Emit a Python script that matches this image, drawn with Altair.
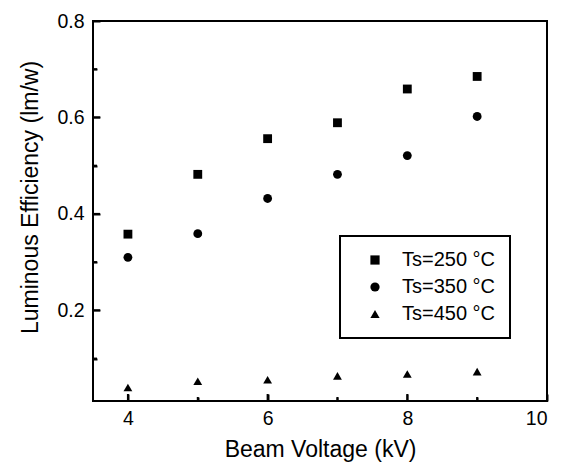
import altair as alt
import pandas as pd

voltage = [4, 5, 6, 7, 8, 9]
eff_250 = [0.358, 0.482, 0.556, 0.589, 0.659, 0.685]
eff_350 = [0.310, 0.359, 0.432, 0.482, 0.521, 0.602]
eff_450 = [0.040, 0.053, 0.056, 0.064, 0.068, 0.073]
series = ["Ts=250 °C", "Ts=350 °C", "Ts=450 °C"]

x_major = [4, 6, 8, 10]
x_minor = [5, 7, 9]
y_major = [0.2, 0.4, 0.6, 0.8]
y_minor = [0.1, 0.3, 0.5, 0.7]

W, H = 454, 380
FONT = "Liberation Sans"

rows = []
for name, vals in zip(series, [eff_250, eff_350, eff_450]):
    for v, e in zip(voltage, vals):
        rows.append({"V": v, "E": e, "S": name})
df = pd.DataFrame(rows)

xs = alt.Scale(domain=[3.5, 10], nice=False, zero=False)
ys = alt.Scale(domain=[0.012, 0.8], nice=False, zero=False)

base = alt.Chart(df)

points = base.mark_point(filled=True, opacity=1, color="black", size=78).encode(
    x=alt.X("V:Q", scale=xs, axis=alt.Axis(values=x_major, title="Beam Voltage (kV)",
                                          format="d", labelPadding=8, titlePadding=11)),
    y=alt.Y("E:Q", scale=ys, axis=alt.Axis(values=y_major, title="Luminous Efficiency (lm/w)",
                                          format=".1f", labelPadding=9, titleX=-51, titleY=176)),
    shape=alt.Shape("S:N", scale=alt.Scale(domain=series, range=["square", "circle", "triangle-up"]),
                    legend=alt.Legend(title=None, orient="none", legendX=247, legendY=215,
                                      padding=14, symbolOffset=11, labelOffset=17,
                                      labelFontSize=20, labelFont=FONT, labelColor="black",
                                      strokeColor="black", fillColor="white",
                                      symbolSize=85, symbolFillColor="black", symbolStrokeWidth=0)),
)

def tick_layer(xv, yv, length):
    tick_style = dict(labels=False, domain=False, ticks=True, tickSize=length, tickWidth=2,
                      tickColor="black", grid=False, title=None)
    return base.mark_point(opacity=0).encode(
        x=alt.X("V:Q", scale=xs, axis=alt.Axis(orient="top", offset=-H, values=xv, **tick_style)),
        y=alt.Y("E:Q", scale=ys, axis=alt.Axis(orient="right", offset=-W, values=yv, **tick_style)),
    )

def xrules(vals, length):
    return alt.Chart(pd.DataFrame({"V": vals})).mark_rule(color="black", strokeWidth=2).encode(
        x=alt.X("V:Q", scale=xs, axis=None), y=alt.value(H), y2=alt.value(H - length))

def yrules(vals, length):
    return alt.Chart(pd.DataFrame({"E": vals})).mark_rule(color="black", strokeWidth=2).encode(
        y=alt.Y("E:Q", scale=ys, axis=None), x=alt.value(0), x2=alt.value(length))

chart = alt.layer(
    points, tick_layer(x_major, y_major, 7), tick_layer(x_minor, y_minor, 4),
    xrules(x_major, 7), xrules(x_minor, 4), yrules(y_major, 7), yrules(y_minor, 4)
).resolve_axis(
    x="independent", y="independent"
).properties(
    width=W, height=H,
    padding={"left": 85, "top": 13, "right": 14, "bottom": 61},
    autosize=alt.AutoSizeParams(type="none"),
).configure_view(
    stroke="black", strokeWidth=2
).configure_axis(
    domain=False, ticks=False, grid=False,
    labelFont=FONT, labelFontSize=19.5, labelColor="black",
    titleFont=FONT, titleFontSize=23, titleFontWeight="normal", titleColor="black",
).configure_legend(
    rowPadding=7, strokeWidth=2
)

chart.save("out.html", embed_options={"renderer": "svg", "actions": False})
